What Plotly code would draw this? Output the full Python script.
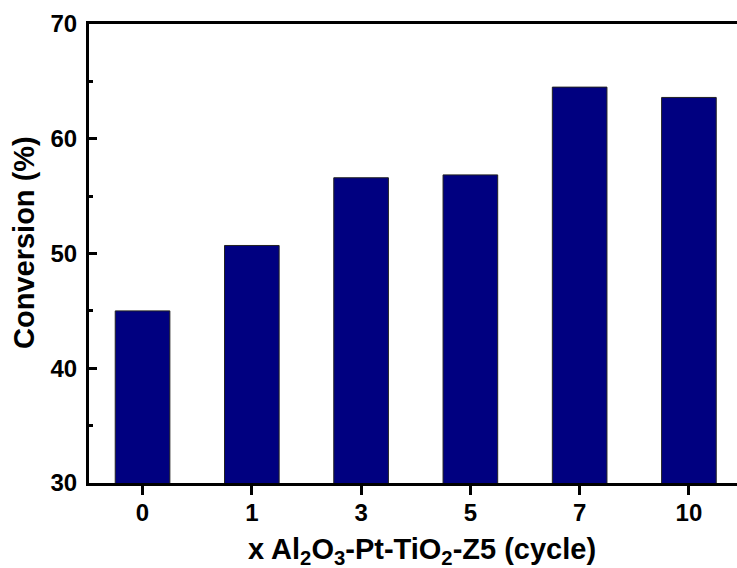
import plotly.graph_objects as go

categories = ["0", "1", "3", "5", "7", "10"]
conversion = [45.0, 50.7, 56.6, 56.85, 64.5, 63.6]
y_ticks = [30, 40, 50, 60, 70]
y_minor = [35, 45, 55, 65]

font_family = "Liberation Sans, Arial, sans-serif"

fig = go.Figure()
fig.add_trace(go.Bar(
    x=list(range(len(categories))),
    y=conversion,
    width=0.5,
    marker=dict(color="#000080", line=dict(color="#222222", width=1)),
))

fig.update_layout(
    width=737, height=568,
    margin=dict(l=89, r=0, t=24, b=85),
    plot_bgcolor="white", paper_bgcolor="white",
    showlegend=False,
    font=dict(family=font_family, color="black"),
    xaxis=dict(
        range=[-0.49, 5.44],
        tickmode="array",
        tickvals=list(range(len(categories))),
        ticktext=categories,
        showgrid=False, zeroline=False,
        showline=True, linecolor="black", linewidth=3, mirror=True,
        ticks="outside", ticklen=9, tickwidth=3, tickcolor="black",
        ticklabelstandoff=-3,
        tickfont=dict(size=24, family=font_family, color="black", weight="bold"),
    ),
    yaxis=dict(
        range=[30, 70],
        tickmode="array",
        tickvals=y_ticks,
        showgrid=False, zeroline=False,
        showline=True, linecolor="black", linewidth=3,
        ticks="inside", ticklen=8, tickwidth=3, tickcolor="black",
        ticklabelstandoff=4,
        minor=dict(tickvals=y_minor, ticks="inside", ticklen=4, tickwidth=3, tickcolor="black"),
        tickfont=dict(size=24, family=font_family, color="black", weight="bold"),
    ),
    annotations=[
        dict(text="<b>x Al<sub>2</sub>O<sub>3</sub>-Pt-TiO<sub>2</sub>-Z5 (cycle)</b>",
             xref="paper", yref="paper", x=0.514, y=-0.148,
             xanchor="center", yanchor="middle", showarrow=False,
             font=dict(size=29, family=font_family, color="black")),
        dict(text="<b>Conversion (%)</b>",
             xref="paper", yref="paper", x=-0.1003, y=0.523, textangle=-90,
             xanchor="center", yanchor="middle", showarrow=False,
             font=dict(size=29, family=font_family, color="black")),
    ],
)

fig.write_html("out.html")
